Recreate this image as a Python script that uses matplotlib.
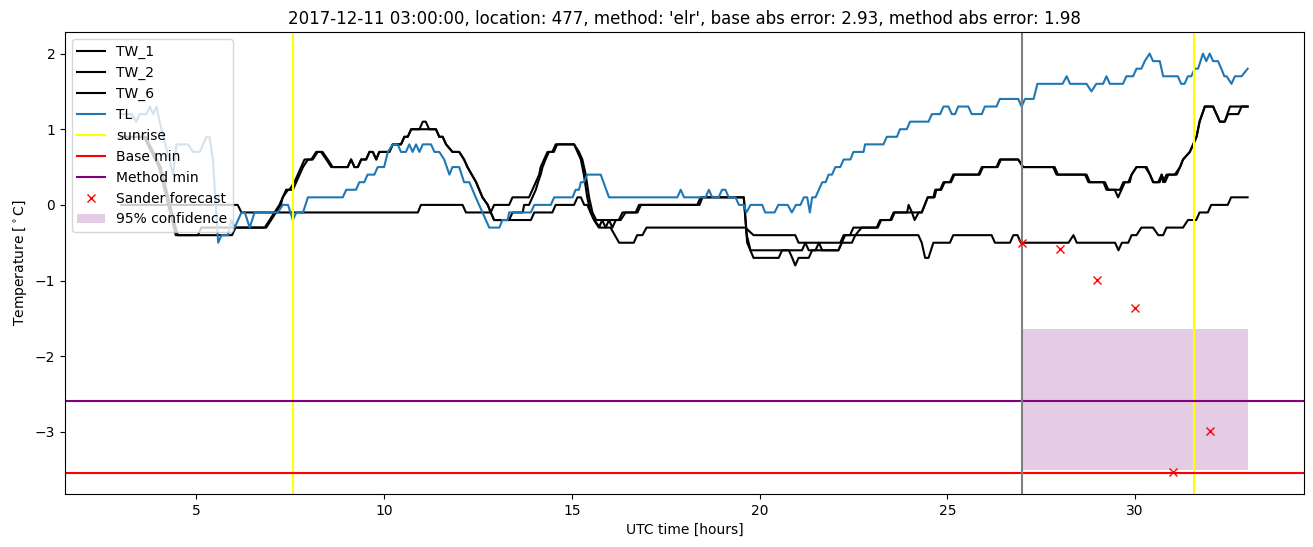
import numpy as np
import matplotlib
matplotlib.use("Agg")
import matplotlib.pyplot as plt

# ---------- data (time [h], temperature [C]) ----------

tw1_pts = [(3.0,0.9),(3.6,0.9),(4.0,0.5),(4.45,-0.4),(5.04,-0.4),(5.13,-0.3),(6.82,-0.3),
    (6.95,-0.2),(7.08,-0.1),(7.21,0.0),(7.30,0.1),(7.39,0.2),(7.48,0.2),(7.61,0.3),(7.70,0.4),
    (7.79,0.5),(7.88,0.6),(8.06,0.6),(8.19,0.7),(8.32,0.7),(8.46,0.6),(8.59,0.5),(9.03,0.5),
    (9.12,0.6),(9.21,0.5),(9.30,0.5),(9.39,0.6),(9.52,0.6),(9.61,0.7),(9.70,0.7),(9.79,0.6),
    (9.87,0.7),(10.14,0.7),(10.23,0.8),(10.45,0.8),(10.54,0.9),(10.63,0.9),(10.72,1.0),
    (10.94,1.0),(11.03,1.1),(11.11,1.1),(11.20,1.0),(11.38,1.0),(11.47,0.9),(11.56,0.9),
    (11.65,0.8),(11.82,0.7),(12.0,0.7),(12.13,0.6),(12.22,0.5),(12.45,0.3),(12.62,0.1),
    (12.76,0.0),(12.84,-0.1),(12.93,0.0),(13.33,0.0),(13.42,0.1),(13.86,0.1),(13.95,0.2),
    (14.04,0.3),(14.13,0.4),(14.17,0.5),(14.26,0.6),(14.35,0.7),(14.48,0.7),(14.57,0.8),
    (15.06,0.8),(15.15,0.7),(15.24,0.6),(15.32,0.4),(15.41,0.1),(15.50,-0.1),(15.59,-0.2),
    (15.72,-0.3),(15.81,-0.2),(15.90,-0.3),(15.99,-0.2),(16.08,-0.3),(16.17,-0.2),(16.30,-0.2),
    (16.43,-0.1),(16.70,-0.1),(16.79,0.0),(18.34,0.0),(18.43,0.1),(19.58,0.1),(19.67,-0.5),
    (19.84,-0.7),(20.51,-0.7),(20.60,-0.6),(20.78,-0.6),(20.87,-0.7),(20.95,-0.8),(21.04,-0.7),
    (21.31,-0.7),(21.40,-0.6),(22.10,-0.6),(22.19,-0.5),(22.46,-0.5),(22.55,-0.4),(22.72,-0.3),
    (23.12,-0.3),(23.21,-0.2),(23.48,-0.2),(23.57,-0.1),(23.93,-0.1),(23.97,0.0),(24.06,-0.1),
    (24.13,-0.2),(24.24,-0.1),(24.32,-0.1),(24.48,0.1),(24.63,0.1),(24.68,0.2),(24.81,0.2),
    (24.90,0.3),(25.07,0.3),(25.16,0.4),(25.83,0.4),(25.92,0.5),(26.31,0.5),(26.40,0.6),
    (26.89,0.6),(27.02,0.5),(27.82,0.5),(27.91,0.4),(28.67,0.4),(28.76,0.3),(29.16,0.3),
    (29.24,0.2),(29.46,0.2),(29.55,0.1),(29.64,0.2),(29.73,0.3),(29.86,0.3),(29.91,0.4),
    (30.04,0.5),(30.31,0.5),(30.40,0.4),(30.48,0.3),(30.66,0.3),(30.71,0.4),(30.75,0.3),
    (30.84,0.4),(31.06,0.4),(31.20,0.5),(31.28,0.6),(31.46,0.7),(31.55,0.8),(31.64,0.9),
    (31.72,1.1),(31.86,1.3),(32.08,1.3),(32.26,1.1),(32.39,1.1),(32.53,1.3),(33.0,1.3)]

tw2_pts = [(3.0,0.9),(3.65,0.9),(4.05,0.5),(4.5,-0.4),(5.95,-0.4),(6.04,-0.3),(6.86,-0.3),
    (6.99,-0.2),(7.12,-0.1),(7.25,0.0),(7.30,0.1),(7.44,0.2),(7.57,0.2),(7.66,0.3),(7.75,0.4),
    (7.84,0.5),(7.97,0.6),(8.10,0.6),(8.23,0.7),(8.36,0.7),(8.50,0.6),(8.63,0.5),(9.03,0.5),
    (9.12,0.6),(9.21,0.5),(9.30,0.5),(9.39,0.6),(9.52,0.6),(9.61,0.7),(9.70,0.7),(9.79,0.6),
    (9.87,0.7),(10.14,0.7),(10.23,0.8),(10.45,0.8),(10.54,0.9),(10.63,0.9),(10.72,1.0),
    (11.38,1.0),(11.47,0.9),(11.56,0.9),(11.65,0.8),(11.82,0.7),(12.0,0.7),(12.13,0.6),
    (12.22,0.5),(12.45,0.3),(12.62,0.1),(12.76,0.0),(12.84,-0.1),(12.93,-0.2),(13.33,-0.2),
    (13.42,-0.1),(13.69,-0.1),(13.73,0.0),(13.86,0.0),(13.95,0.1),(14.04,0.2),(14.10,0.3),
    (14.17,0.4),(14.22,0.5),(14.30,0.6),(14.39,0.7),(14.52,0.7),(14.61,0.8),(15.06,0.8),
    (15.19,0.7),(15.28,0.6),(15.37,0.4),(15.46,0.1),(15.55,-0.1),(15.65,-0.2),(16.25,-0.2),
    (16.35,-0.1),(16.75,-0.1),(16.84,0.0),(18.40,0.0),(18.48,0.1),(19.58,0.1),(19.66,-0.4),
    (19.76,-0.6),(21.13,-0.6),(21.22,-0.5),(21.31,-0.6),(21.49,-0.6),(21.58,-0.5),(21.67,-0.6),
    (22.10,-0.6),(22.19,-0.5),(22.28,-0.4),(22.41,-0.4),(22.50,-0.3),(23.15,-0.3),(23.24,-0.2),
    (23.51,-0.2),(23.60,-0.1),(24.32,-0.1),(24.48,0.1),(24.66,0.1),(24.71,0.2),(24.84,0.2),
    (24.93,0.3),(25.10,0.3),(25.19,0.4),(25.86,0.4),(25.95,0.5),(26.34,0.5),(26.43,0.6),
    (26.89,0.6),(27.02,0.5),(27.86,0.5),(27.95,0.4),(28.71,0.4),(28.80,0.3),(29.20,0.3),
    (29.29,0.2),(29.60,0.2),(29.69,0.3),(29.82,0.3),(29.91,0.4),(30.04,0.5),(30.27,0.5),
    (30.40,0.4),(30.49,0.3),(30.62,0.3),(30.71,0.4),(30.80,0.3),(30.89,0.4),(31.11,0.4),
    (31.20,0.5),(31.28,0.6),(31.46,0.7),(31.55,0.8),(31.64,0.9),(31.72,1.1),(31.86,1.3),
    (32.08,1.3),(32.26,1.1),(32.39,1.1),(32.48,1.2),(32.75,1.2),(32.84,1.3),(33.0,1.3)]

tw6_pts = [(3.0,0.0),(6.10,0.0),(6.20,-0.1),(10.90,-0.1),(10.98,0.0),(12.09,0.0),(12.18,-0.1),
    (12.84,-0.1),(12.93,-0.2),(13.91,-0.2),(14.0,-0.1),(14.48,-0.1),(14.57,0.0),(15.06,0.0),
    (15.15,0.1),(15.24,0.1),(15.33,0.0),(15.41,0.0),(15.50,-0.1),(15.60,-0.2),(15.75,-0.3),
    (16.03,-0.3),(16.26,-0.5),(16.65,-0.5),(16.74,-0.4),(16.88,-0.4),(16.99,-0.3),(19.62,-0.3),
    (19.84,-0.4),(20.95,-0.4),(21.04,-0.5),(22.15,-0.5),(22.24,-0.4),(24.23,-0.4),(24.32,-0.5),
    (24.41,-0.7),(24.50,-0.7),(24.63,-0.5),(25.07,-0.5),(25.16,-0.4),(26.18,-0.4),(26.27,-0.5),
    (26.67,-0.5),(26.76,-0.4),(26.87,-0.4),(26.96,-0.5),(28.23,-0.5),(28.36,-0.4),(28.45,-0.5),
    (29.47,-0.5),(29.56,-0.6),(29.65,-0.5),(29.82,-0.5),(29.91,-0.4),(30.04,-0.4),(30.17,-0.3),
    (30.48,-0.3),(30.62,-0.4),(30.75,-0.4),(30.84,-0.3),(31.28,-0.3),(31.41,-0.2),(31.63,-0.2),
    (31.72,-0.1),(31.94,-0.1),(32.03,0.0),(32.47,0.0),(32.56,0.1),(33.0,0.1)]

tl_pts = [(3.0,1.2),(3.27,1.2),(3.40,1.1),(3.49,1.2),(3.67,1.2),(3.76,1.3),(3.85,1.2),(3.94,1.3),
    (4.02,1.1),(4.38,0.4),(4.47,0.8),(4.78,0.8),(4.91,0.7),(5.09,0.7),(5.27,0.9),(5.35,0.9),
    (5.44,0.6),(5.58,-0.5),(5.67,-0.4),(5.84,-0.4),(5.93,-0.2),(6.02,-0.3),(6.20,-0.1),
    (6.29,-0.1),(6.42,-0.3),(6.55,-0.1),(7.17,-0.1),(7.30,0.0),(7.44,0.0),(7.57,-0.2),
    (7.66,-0.1),(7.84,-0.1),(7.97,0.1),(8.90,0.1),(8.99,0.2),(9.25,0.2),(9.34,0.3),(9.47,0.3),
    (9.56,0.4),(9.74,0.4),(9.83,0.5),(10.0,0.5),(10.10,0.7),(10.23,0.8),(10.36,0.8),(10.45,0.7),
    (10.58,0.7),(10.67,0.8),(10.76,0.7),(10.85,0.8),(10.94,0.7),(11.03,0.8),(11.25,0.8),
    (11.34,0.7),(11.47,0.7),(11.60,0.6),(11.74,0.4),(11.82,0.5),(12.0,0.5),(12.13,0.3),
    (12.27,0.3),(12.44,0.1),(12.62,-0.1),(12.80,-0.3),(13.07,-0.3),(13.15,-0.2),(13.29,-0.2),
    (13.33,-0.1),(13.91,-0.1),(14.0,0.0),(14.44,0.0),(14.53,0.1),(15.02,0.1),(15.10,0.2),
    (15.19,0.2),(15.24,0.3),(15.32,0.3),(15.41,0.4),(15.77,0.4),(15.99,0.1),(17.81,0.1),
    (17.90,0.2),(17.99,0.1),(18.56,0.1),(18.65,0.2),(18.74,0.1),(18.91,0.1),(19.0,0.2),
    (19.09,0.2),(19.18,0.1),(19.36,0.1),(19.45,0.0),(19.58,0.0),(19.65,-0.1),(19.76,0.0),
    (20.07,0.0),(20.15,-0.1),(20.40,-0.1),(20.50,0.0),(20.75,0.0),(20.86,-0.1),(20.97,0.0),
    (21.09,0.0),(21.18,0.1),(21.27,0.1),(21.34,-0.1),(21.40,0.1),(21.49,0.1),(21.58,0.2),
    (21.67,0.3),(21.76,0.3),(21.84,0.4),(21.93,0.4),(22.02,0.5),(22.15,0.5),(22.24,0.6),
    (22.42,0.6),(22.50,0.7),(22.77,0.7),(22.81,0.8),(23.30,0.8),(23.39,0.9),(23.66,0.9),
    (23.74,1.0),(23.92,1.0),(24.01,1.1),(24.50,1.1),(24.59,1.2),(24.81,1.2),(24.90,1.3),
    (25.03,1.3),(25.12,1.2),(25.21,1.2),(25.29,1.3),(25.56,1.3),(25.65,1.2),(25.92,1.2),
    (26.0,1.3),(26.31,1.3),(26.40,1.4),(26.89,1.4),(26.98,1.3),(27.07,1.4),(27.30,1.4),
    (27.40,1.6),(28.07,1.6),(28.18,1.7),(28.27,1.6),(28.71,1.6),(28.84,1.5),(28.97,1.6),
    (29.15,1.6),(29.24,1.7),(29.33,1.6),(29.68,1.6),(29.77,1.7),(29.95,1.7),(30.04,1.8),
    (30.17,1.8),(30.26,1.9),(30.39,2.0),(30.48,1.9),(30.66,1.9),(30.75,1.7),(31.14,1.7),
    (31.23,1.6),(31.32,1.6),(31.41,1.7),(31.50,1.7),(31.59,1.8),(31.68,1.8),(31.81,2.0),
    (31.90,1.9),(31.99,2.0),(32.08,1.9),(32.21,1.9),(32.30,1.8),(32.38,1.7),(32.44,1.7),
    (32.57,1.6),(32.66,1.7),(32.84,1.7),(33.0,1.8)]

sunrise_hours = [7.58, 31.56]
now_hour = 27.0
base_min = -3.54
method_min = -2.59

sander_hours = [27, 28, 29, 30, 31, 32]
sander_temp = [-0.50, -0.58, -0.99, -1.36, -3.53, -2.99]

conf_hours = [27.0, 33.0]
conf_low = -3.51
conf_high = -1.64

title = "2017-12-11 03:00:00, location: 477, method: 'elr', base abs error: 2.93, method abs error: 1.98"

#---------- plot ----------

fig = plt.figure(figsize=(13.13, 5.47), dpi=100)
ax = fig.add_axes([0.0495, 0.097, 0.9436, 0.8445])

for pts, lab, col in [(tw1_pts, 'TW_1', 'black'), (tw2_pts, 'TW_2', 'black'),
                      (tw6_pts, 'TW_6', 'black'), (tl_pts, 'TL', 'C0')]:
    t, v = zip(*pts)
    ax.plot(t, v, color=col, label=lab)

for i, h in enumerate(sunrise_hours):
    ax.axvline(h, color='yellow', label='sunrise' if i == 0 else None)
ax.axhline(base_min, color='red', label='Base min')
ax.axhline(method_min, color='purple', label='Method min')
ax.axvline(now_hour, color='gray')
ax.plot(sander_hours, sander_temp, 'rx', label='Sander forecast')
ax.fill_between(conf_hours, [conf_low]*2, [conf_high]*2, color='purple', alpha=0.2,
                linewidth=0, label='95% confidence')

ax.set_xlim(1.5, 34.5)
ax.set_ylim(-3.82, 2.285)
ax.set_xlabel('UTC time [hours]')
ax.set_ylabel(r'Temperature [$^\circ$C]')
ax.set_title(title)
ax.legend(loc='upper left')

plt.savefig('out.png', dpi=100)
